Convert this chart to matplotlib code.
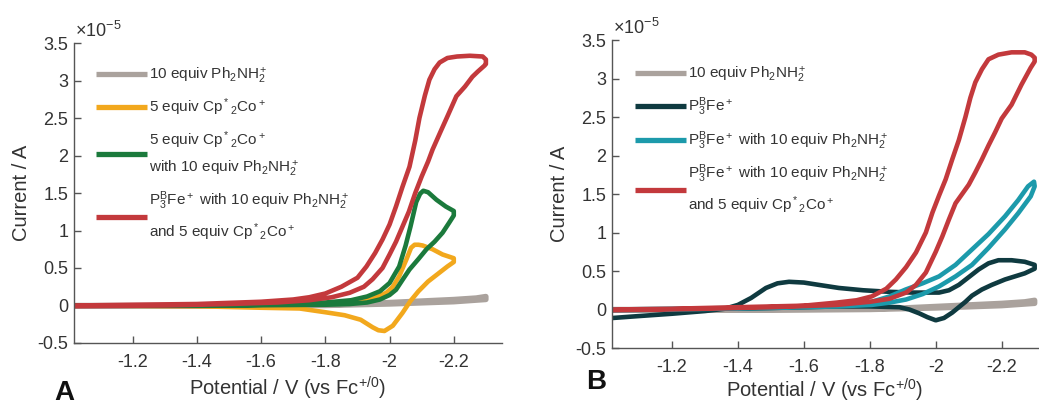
import matplotlib
matplotlib.use("Agg")
import matplotlib.pyplot as plt

plt.rcParams['font.family'] = ['Liberation Sans', 'DejaVu Sans']
plt.rcParams['mathtext.fontset'] = 'custom'
plt.rcParams['mathtext.rm'] = 'Liberation Sans'
plt.rcParams['mathtext.it'] = 'Liberation Sans'
plt.rcParams['mathtext.bf'] = 'Liberation Sans:bold'
plt.rcParams['mathtext.default'] = 'regular'
plt.rcParams['axes.unicode_minus'] = False

# ---------------- data (potential in V vs Fc, current in 1e-5 A) ----------------
x_ticks = [-1.2, -1.4, -1.6, -1.8, -2.0, -2.2]
x_tick_labels = ['-1.2', '-1.4', '-1.6', '-1.8', '-2', '-2.2']
y_ticks = [-0.5, 0, 0.5, 1, 1.5, 2, 2.5, 3, 3.5]
y_tick_labels = ['-0.5', '0', '0.5', '1', '1.5', '2', '2.5', '3', '3.5']

gray_v = [-1.02, -1.2, -1.4, -1.6, -1.8, -1.9, -2.0, -2.1, -2.2, -2.27, -2.30,
          -2.30, -2.2, -2.0, -1.8, -1.5, -1.02]
gray_i = [0.0, 0.0, 0.0, 0.005, 0.01, 0.02, 0.04, 0.06, 0.08, 0.10, 0.12,
          0.08, 0.05, 0.02, 0.0, -0.01, -0.01]

yellow_v = [-1.02, -1.3, -1.6, -1.8, -1.88, -1.93, -1.97, -1.99, -2.01, -2.03, -2.052, -2.067, -2.078,
            -2.09, -2.103, -2.134, -2.165, -2.2,
            -2.2, -2.18, -2.15, -2.12, -2.09, -2.065, -2.04, -2.01, -1.984, -1.965, -1.947,
            -1.91, -1.86, -1.8, -1.72, -1.6, -1.4, -1.02]
yellow_i = [0.0, 0.0, 0.01, 0.03, 0.05, 0.08, 0.13, 0.17, 0.25, 0.39, 0.61, 0.77, 0.81,
            0.81, 0.80, 0.75, 0.68, 0.63,
            0.58, 0.52, 0.42, 0.32, 0.19, 0.06, -0.10, -0.27, -0.34, -0.33, -0.29,
            -0.19, -0.13, -0.09, -0.04, -0.03, -0.01, 0.0]

green_v = [-1.02, -1.5, -1.7, -1.8, -1.88, -1.93, -1.97, -2.0, -2.03, -2.05, -2.065, -2.083,
           -2.095, -2.105, -2.12, -2.146, -2.175, -2.2,
           -2.2, -2.185, -2.165, -2.14, -2.115, -2.09, -2.062, -2.04, -2.02, -2.0, -1.97,
           -1.93, -1.876, -1.8, -1.5, -1.02]
green_i = [0.0, 0.0, 0.02, 0.04, 0.07, 0.12, 0.19, 0.30, 0.52, 0.80, 1.05, 1.38,
           1.49, 1.53, 1.51, 1.41, 1.32, 1.26,
           1.20, 1.10, 0.97, 0.85, 0.75, 0.62, 0.48, 0.34, 0.21, 0.14, 0.08,
           0.04, 0.02, 0.01, 0.0, 0.0]

red_a_v = [-1.02, -1.2, -1.4, -1.6, -1.7, -1.75, -1.8, -1.85, -1.9, -1.928, -1.955, -1.978,
           -2.0, -2.02, -2.04, -2.062, -2.08, -2.093, -2.11, -2.124, -2.14, -2.156, -2.18,
           -2.21, -2.25, -2.29, -2.30,
           -2.30, -2.296, -2.275, -2.258, -2.235, -2.208, -2.18, -2.16, -2.134, -2.12, -2.1,
           -2.08, -2.06, -2.04, -2.02, -2.0, -1.978, -1.947, -1.92, -1.876, -1.82, -1.75,
           -1.65, -1.5, -1.3, -1.02]
red_a_i = [0.0, 0.01, 0.02, 0.05, 0.08, 0.11, 0.16, 0.25, 0.37, 0.52, 0.70, 0.88,
           1.08, 1.32, 1.58, 1.85, 2.2, 2.5, 2.8, 3.01, 3.15, 3.24, 3.30,
           3.32, 3.33, 3.32, 3.28,
           3.22, 3.20, 3.12, 3.05, 2.92, 2.79, 2.52, 2.33, 2.08, 1.92, 1.72,
           1.50, 1.25, 1.05, 0.85, 0.68, 0.50, 0.35, 0.25, 0.17, 0.11, 0.07,
           0.04, 0.02, 0.0, -0.01]

dark_v = [-1.02, -1.1, -1.2, -1.3, -1.36, -1.40, -1.44, -1.485, -1.52, -1.555, -1.60, -1.645,
          -1.706, -1.78, -1.858, -1.93, -2.01, -2.04, -2.07, -2.1, -2.13, -2.16, -2.19,
          -2.23, -2.27, -2.30,
          -2.30, -2.27, -2.24, -2.21, -2.17, -2.14, -2.11, -2.09, -2.07, -2.05, -2.025,
          -2.0, -1.975, -1.95, -1.92, -1.89, -1.8, -1.7, -1.6, -1.5, -1.4]
dark_i = [-0.11, -0.085, -0.055, -0.02, 0.01, 0.06, 0.15, 0.28, 0.34, 0.36, 0.35, 0.32,
          0.28, 0.25, 0.23, 0.22, 0.22, 0.25, 0.32, 0.42, 0.52, 0.60, 0.64,
          0.64, 0.62, 0.58,
          0.53, 0.47, 0.43, 0.39, 0.32, 0.26, 0.18, 0.10, 0.03, -0.04, -0.11,
          -0.14, -0.10, -0.05, 0.0, 0.03, 0.04, 0.04, 0.03, 0.02, 0.01]

teal_v = [-1.02, -1.4, -1.6, -1.7, -1.806, -1.86, -1.909, -1.96, -2.01, -2.06, -2.11, -2.16,
          -2.21, -2.25, -2.28, -2.298,
          -2.30, -2.288, -2.25, -2.21, -2.16, -2.11, -2.06, -2.01, -1.96, -1.91, -1.86,
          -1.806, -1.7, -1.5, -1.02]
teal_i = [0.0, 0.02, 0.04, 0.06, 0.10, 0.17, 0.26, 0.34, 0.43, 0.58, 0.78, 0.98,
          1.21, 1.42, 1.60, 1.66,
          1.60, 1.47, 1.25, 1.04, 0.80, 0.58, 0.43, 0.30, 0.20, 0.13, 0.09,
          0.06, 0.04, 0.02, -0.01]

red_b_v = [-1.02, -1.2, -1.4, -1.6, -1.7, -1.76, -1.806, -1.85, -1.879, -1.91, -1.94, -1.97,
           -1.99, -2.01, -2.03, -2.05, -2.07, -2.09, -2.105, -2.12, -2.14, -2.16, -2.19,
           -2.23, -2.27, -2.29, -2.30,
           -2.30, -2.288, -2.26, -2.23, -2.2, -2.18, -2.16, -2.14, -2.12, -2.1, -2.08,
           -2.06, -2.04, -2.02, -2.0, -1.97, -1.94, -1.91, -1.86, -1.8, -1.7, -1.5, -1.3, -1.02]
red_b_i = [0.0, 0.01, 0.03, 0.05, 0.09, 0.12, 0.17, 0.27, 0.39, 0.55, 0.74, 1.0,
           1.26, 1.48, 1.69, 1.95, 2.2, 2.5, 2.75, 2.95, 3.12, 3.25, 3.31,
           3.34, 3.34, 3.31, 3.27,
           3.22, 3.14, 2.92, 2.66, 2.48, 2.30, 2.13, 1.95, 1.78, 1.62, 1.50,
           1.38, 1.17, 0.95, 0.75, 0.48, 0.32, 0.22, 0.14, 0.10, 0.06, 0.03, 0.01, -0.01]

labels_a = [r'10 equiv Ph$_2$NH$_2^+$',
            r'5 equiv Cp$^*{}_2$Co$^+$',
            '5 equiv Cp$^*{}_2$Co$^+$\nwith 10 equiv Ph$_2$NH$_2^+$',
            'P$_3^B$Fe$^+$ with 10 equiv Ph$_2$NH$_2^+$\nand 5 equiv Cp$^*{}_2$Co$^+$']
labels_b = [r'10 equiv Ph$_2$NH$_2^+$',
            r'P$_3^B$Fe$^+$',
            r'P$_3^B$Fe$^+$ with 10 equiv Ph$_2$NH$_2^+$',
            'P$_3^B$Fe$^+$ with 10 equiv Ph$_2$NH$_2^+$\nand 5 equiv Cp$^*{}_2$Co$^+$']

c_gray = '#aaa29d'
c_yellow = '#f2a81d'
c_green = '#1b7a3c'
c_red = '#c3393c'
c_dark = '#0f3a40'
c_teal = '#1c9aab'

TXT = '#333333'
SP = '#555555'

fig = plt.figure(figsize=(10.39, 4.05), dpi=100)
axA = fig.add_axes([0.0712, 0.1531, 0.4119, 0.7407])
axB = fig.add_axes([0.589, 0.1407, 0.4100, 0.7605])

LW = 3.3


def style(ax, xlim, xpad):
    ax.set_xlim(*xlim)
    ax.set_ylim(-0.5, 3.5)
    ax.set_xticks(x_ticks)
    ax.set_xticklabels(x_tick_labels)
    ax.set_yticks(y_ticks)
    ax.set_yticklabels(y_tick_labels)
    for s in ['top', 'right']:
        ax.spines[s].set_visible(False)
    for s in ['left', 'bottom']:
        ax.spines[s].set_color(SP)
        ax.spines[s].set_linewidth(1.0)
    ax.tick_params(direction='in', length=5, width=1.0, color=SP, labelcolor=TXT,
                   labelsize=13)
    ax.tick_params(axis='x', pad=8)
    ax.tick_params(axis='y', pad=4)
    ax.set_ylabel('Current / A', fontsize=14.5, color=TXT, labelpad=5)
    ax.set_xlabel(r'Potential / V (vs Fc$^{+/0}$)', fontsize=14.5, color=TXT, labelpad=xpad)
    ax.text(0.002, 1.02, r'$\times$10$^{-5}$', transform=ax.transAxes, ha='left',
            va='baseline', fontsize=13, color=TXT)


# Panel A
hA = []
hA += axA.plot(gray_v, gray_i, color=c_gray, lw=LW + 0.6, solid_joinstyle='round', solid_capstyle='round')
hA += axA.plot(yellow_v, yellow_i, color=c_yellow, lw=LW, solid_joinstyle='round', solid_capstyle='round')
hA += axA.plot(green_v, green_i, color=c_green, lw=LW, solid_joinstyle='round', solid_capstyle='round')
hA += axA.plot(red_a_v, red_a_i, color=c_red, lw=LW, solid_joinstyle='round', solid_capstyle='round')
style(axA, (-1.017, -2.35), 3)

# Panel B
hB = []
hB += axB.plot(gray_v, gray_i, color=c_gray, lw=LW + 0.6, solid_joinstyle='round', solid_capstyle='round')
hB += axB.plot(dark_v, dark_i, color=c_dark, lw=LW, solid_joinstyle='round', solid_capstyle='round')
hB += axB.plot(teal_v, teal_i, color=c_teal, lw=LW, solid_joinstyle='round', solid_capstyle='round')
hB += axB.plot(red_b_v, red_b_i, color=c_red, lw=LW, solid_joinstyle='round', solid_capstyle='round')
style(axB, (-1.018, -2.31), 0.5)


def make_legend(ax, handles, labels, anchor):
    leg = ax.legend(handles, labels, loc='upper left', bbox_to_anchor=anchor,
                    frameon=False, fontsize=11, borderpad=0, borderaxespad=0,
                    handlelength=3.35, handletextpad=0.13, labelspacing=0.72)
    for t in leg.get_texts():
        t.set_color(TXT)
        t.set_linespacing(1.6)
    for l in leg.get_lines():
        l.set_linewidth(3.8)
        l.set_solid_capstyle('butt')
    return leg


make_legend(axA, hA, labels_a, (0.051, 0.925))
make_legend(axB, hB, labels_b, (0.054, 0.92))

fig.text(64 / 1039, 1 - 400 / 405, 'A', fontsize=20, fontweight='bold', ha='center',
         va='baseline', color='#111111')
fig.text(596 / 1039, 1 - 389 / 405, 'B', fontsize=20, fontweight='bold', ha='center',
         va='baseline', color='#111111')

fig.savefig('out.png', dpi=100)
